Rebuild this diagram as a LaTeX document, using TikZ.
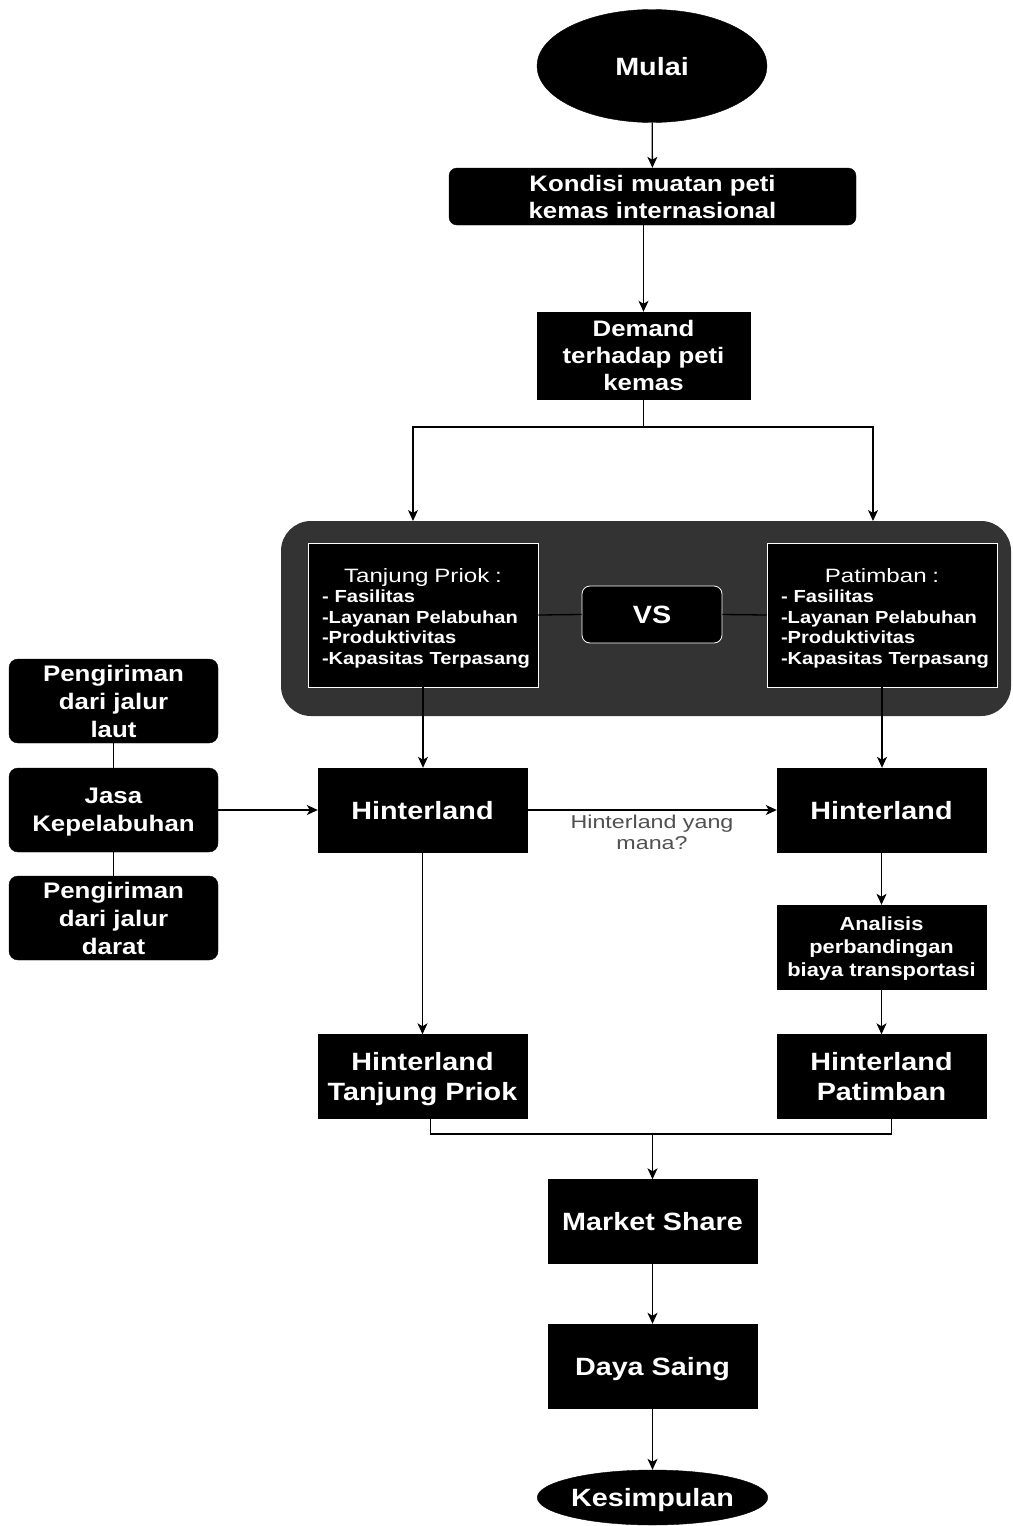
\documentclass[tikz,border=0pt]{standalone}
\usepackage{fontspec}
\usetikzlibrary{shapes.geometric, positioning, arrows.meta}

\newfontfamily\dfont{Liberation Sans}[FakeStretch=1.15]
\newfontfamily\rfont{Liberation Sans}[FakeStretch=1.25]
\newcommand\bigtxt{\dfont\bfseries\fontsize{25}{30}\selectfont}
\newcommand\midtxt{\dfont\bfseries\fontsize{22.4}{27}\selectfont}
\newcommand\sidetxt{\dfont\bfseries\fontsize{22.5}{28}\selectfont}
\newcommand\smtxt{\dfont\bfseries\fontsize{19}{23}\selectfont}
\newcommand\lsttxt{\dfont\bfseries\fontsize{17.5}{20.5}\selectfont}
\newcommand\hdtxt{\rfont\mdseries\fontsize{19.3}{20.5}\selectfont}
\definecolor{cmpgray}{HTML}{333333}
\definecolor{lblgray}{HTML}{505050}

\tikzset{
  box/.style={rectangle, draw=black, fill=black, text=white, minimum width=209pt,
    minimum height=84pt, inner sep=0pt, text depth=0pt, align=center, font=\bigtxt},
  rbox/.style={box, rounded corners=9pt, font=\midtxt},
  term/.style={ellipse, draw=black, fill=black, text=white, inner sep=0pt, text depth=0pt, font=\bigtxt},
  port/.style={rectangle, draw=white, fill=black, text=white, line width=0.8pt,
    minimum width=230pt, minimum height=144pt, inner xsep=14pt, text width=202pt,
    align=left, font=\lsttxt},
  arr/.style={-{Stealth[length=11pt,width=10pt,inset=3pt]}, line width=1.3pt},
  conn/.style={line width=1.3pt},
}

\begin{document}
\begin{tikzpicture}[x=1pt, y=-1pt]
\useasboundingbox[fill=white] (0,0) rectangle (1012,1526);

\node[term, minimum width=230pt, minimum height=113pt] (mulai) at (652,66) {Mulai};
\node[rbox, minimum width=407pt, minimum height=57pt, rounded corners=8pt] (kondisi) at (652.5,196.5) {Kondisi muatan peti\\kemas internasional};
\node[box, minimum width=213pt, minimum height=87pt, font=\midtxt] (demand) at (643.5,355.5) {Demand\\terhadap peti\\kemas};

% comparison panel
\node[rectangle, fill=cmpgray, rounded corners=30pt, minimum width=730pt, minimum height=195pt] (cmp) at (646,618.5) {};
\node[port] (tp) at (423,615) {\makebox[202pt]{\rule{0pt}{20pt}\hdtxt Tanjung Priok :}\\\mbox{- Fasilitas}\\\mbox{-Layanan Pelabuhan}\\\mbox{-Produktivitas}\\\mbox{-Kapasitas Terpasang}};
\node[port] (pb) at (882,615) {\makebox[202pt]{\rule{0pt}{20pt}\hdtxt Patimban :}\\\mbox{- Fasilitas}\\\mbox{-Layanan Pelabuhan}\\\mbox{-Produktivitas}\\\mbox{-Kapasitas Terpasang}};
\node[box, draw=white, line width=0.8pt, rounded corners=8pt, minimum width=140pt, minimum height=57pt] (vs) at (652,614.5) {VS};

% left column
\node[rbox, font=\sidetxt] (laut) at (113.5,701) {Pengiriman\\dari jalur\\laut};
\node[rbox, font=\sidetxt] (jasa) at (113.5,810) {Jasa\\Kepelabuhan};
\node[rbox, font=\sidetxt] (darat) at (113.5,918) {Pengiriman\\dari jalur\\darat};

\node[box] (h1) at (422.5,810) {Hinterland};
\node[box] (h2) at (881.5,810) {Hinterland};
\node[box, font=\smtxt] (ana) at (881.5,947) {Analisis\\perbandingan\\biaya transportasi};
\node[box] (htp) at (422.5,1076.5) {Hinterland\\Tanjung Priok};
\node[box] (hp) at (881.5,1076.5) {Hinterland\\Patimban};

\node[box] (ms) at (652.5,1221.5) {Market Share};
\node[box] (ds) at (652.5,1366) {Daya Saing};
\node[term, minimum width=209pt, minimum height=55pt] (kes) at (652.5,1497.5) {Kesimpulan};

\coordinate (split) at (643.5,427);
\coordinate (inL) at (413,521);
\coordinate (inR) at (873,521);
\coordinate (merge) at (652.5,1134);

\draw
    (mulai) edge[arr] (kondisi)
    (demand |- kondisi.south) edge[arr] (demand)
    (tp.east) edge[conn] (vs.west)
    (vs.east) edge[conn] (pb.west)
    (laut) edge[conn] (jasa)
    (jasa) edge[conn] (darat)
    (jasa) edge[arr] (h1)
    (tp.south) edge[arr] (tp.south |- h1.north)
    (pb.south) edge[arr] (pb.south |- h2.north)
    (h1.south) edge[arr] (h1.south |- htp.north)
    (h2) edge[arr] (ana)
    (ana) edge[arr] (hp)
    (merge) edge[arr] (ms)
    (ms) edge[arr] (ds)
    (ds) edge[arr] (kes);

\draw[arr] (demand.south) -- (split) -| (inL);
\draw[arr] (split) -| (inR);
\draw[arr] (h1) -- node[below=1pt, align=center, text=lblgray, font=\rfont\fontsize{18.6}{21}\selectfont] (ask) {Hinterland yang\\mana?} (h2);
\draw[conn] ([xshift=8pt]htp.south) |- (merge) -| ([xshift=10pt]hp.south);
\end{tikzpicture}
\end{document}
